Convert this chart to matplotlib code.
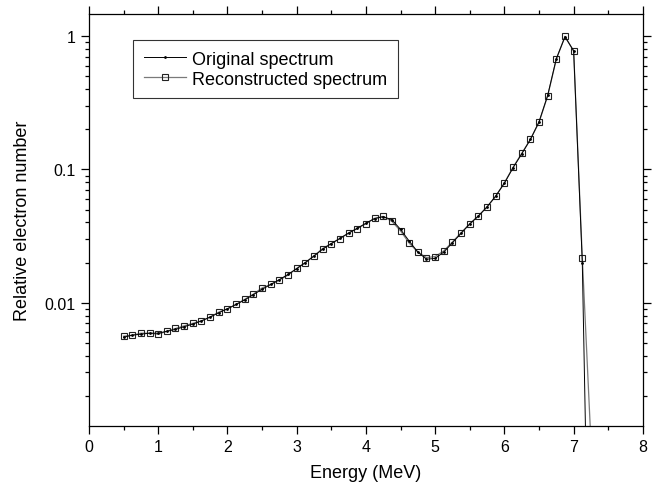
import matplotlib
matplotlib.use("Agg")
import matplotlib.pyplot as plt
from matplotlib.ticker import LogLocator, FixedLocator, NullFormatter, FixedFormatter

plt.rcParams["font.family"] = ["Liberation Sans", "DejaVu Sans"]

# Energy grid (MeV)
energy = [0.5, 0.625, 0.75, 0.875, 1.0, 1.125, 1.25, 1.375, 1.5, 1.625,
          1.75, 1.875, 2.0, 2.125, 2.25, 2.375, 2.5, 2.625, 2.75, 2.875,
          3.0, 3.125, 3.25, 3.375, 3.5, 3.625, 3.75, 3.875, 4.0, 4.125,
          4.25, 4.375, 4.5, 4.625, 4.75, 4.875, 5.0, 5.125, 5.25, 5.375,
          5.5, 5.625, 5.75, 5.875, 6.0, 6.125, 6.25, 6.375, 6.5, 6.625,
          6.75, 6.875, 7.0, 7.125, 7.25]

# Original spectrum
original = [0.0055, 0.0057, 0.0058, 0.0059, 0.0059, 0.0061, 0.0063, 0.0066, 0.0069, 0.0073,
            0.0078, 0.0084, 0.0090, 0.0097, 0.0105, 0.0115, 0.0126, 0.0137, 0.0149, 0.0163,
            0.0180, 0.0200, 0.0224, 0.0252, 0.0278, 0.0304, 0.0333, 0.0362, 0.0395, 0.0428,
            0.0442, 0.0420, 0.0355, 0.0290, 0.0240, 0.0212, 0.0215, 0.0240, 0.0282, 0.0332,
            0.0390, 0.0448, 0.0525, 0.0632, 0.0790, 0.103, 0.131, 0.168, 0.228, 0.360,
            0.680, 0.99, 0.78, 0.020, 0.000008]

# Reconstructed spectrum
reconstructed = [0.0056, 0.0057, 0.0059, 0.0059, 0.0058, 0.0061, 0.0064, 0.0067, 0.0070, 0.0073,
                 0.0078, 0.0085, 0.0090, 0.0097, 0.0106, 0.0116, 0.0129, 0.0137, 0.0148, 0.0161,
                 0.0181, 0.0200, 0.0225, 0.0255, 0.0278, 0.0303, 0.0334, 0.0360, 0.0392, 0.0430,
                 0.0445, 0.0408, 0.0346, 0.0280, 0.0240, 0.0218, 0.0222, 0.0245, 0.0286, 0.0335,
                 0.0392, 0.0448, 0.0523, 0.0631, 0.0794, 0.104, 0.132, 0.168, 0.226, 0.357,
                 0.673, 1.0, 0.773, 0.0218, 0.0009]

fig = plt.figure(figsize=(6.54, 4.85), dpi=100)
ax = fig.add_axes([0.136, 0.12, 0.847, 0.849])

ax.plot(energy, reconstructed, color="#7a7a7a", lw=0.9, marker="s", ms=5,
        mfc="none", mec="#222222", mew=0.8, label="Reconstructed spectrum", zorder=2)
ax.plot(energy, original, color="black", lw=0.7, marker=".", ms=2,
        label="Original spectrum", zorder=3)

ax.set_yscale("log")
ax.set_xlim(0, 8)
ax.set_ylim(0.00119, 1.47)

ax.xaxis.set_major_locator(FixedLocator(range(9)))
ax.xaxis.set_minor_locator(FixedLocator([i + 0.5 for i in range(8)]))
ax.yaxis.set_major_locator(FixedLocator([0.01, 0.1, 1]))
ax.yaxis.set_major_formatter(FixedFormatter(["0.01", "0.1", "1"]))
ax.yaxis.set_minor_locator(LogLocator(base=10, subs=range(2, 10)))
ax.yaxis.set_minor_formatter(NullFormatter())

ax.tick_params(which="both", direction="out", top=True, right=True,
               labeltop=False, labelright=False, labelsize=11.5, width=0.9)
ax.tick_params(which="major", length=6)
ax.tick_params(which="minor", length=3)
for s in ax.spines.values():
    s.set_linewidth(0.9)

ax.set_xlabel("Energy (MeV)", fontsize=13, labelpad=7)
ax.set_ylabel("Relative electron number", fontsize=13, labelpad=10)

h, l = ax.get_legend_handles_labels()
leg = ax.legend(h[::-1], l[::-1], loc="upper left", bbox_to_anchor=(0.08, 0.937),
                borderaxespad=0, fontsize=13, frameon=True, fancybox=False,
                edgecolor="black", numpoints=1, handlelength=2.3,
                handletextpad=0.35, borderpad=0.6, labelspacing=0.15)
leg.get_frame().set_linewidth(0.8)

fig.savefig("out.png", dpi=100)
